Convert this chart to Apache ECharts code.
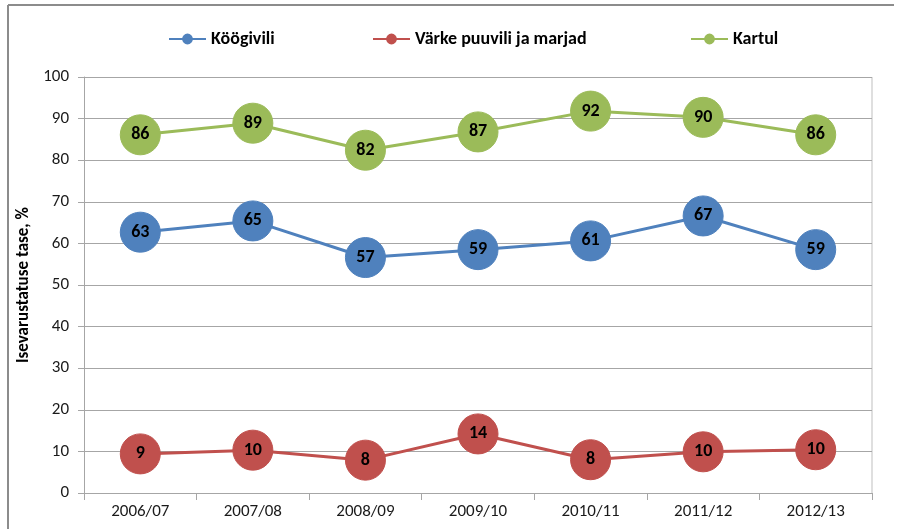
<!DOCTYPE html>
<html lang="et">

<head>
  <meta charset="UTF-8">
  <title>Isevarustatuse tase</title>
  <style>
    html, body { margin: 0; padding: 0; background: #fff; }
    #chart { width: 899px; height: 529px; }
  </style>
</head>

<body>
  <div id="chart"></div>

  <script src="https://cdn.jsdelivr.net/npm/echarts@6/dist/echarts.min.js"></script>
  <script>
    // andmed (väärtused loetud jooniselt)
    const years = ['2006/07', '2007/08', '2008/09', '2009/10', '2010/11', '2011/12', '2012/13'];
    const koogivili = [62.7, 65.4, 56.6, 58.5, 60.6, 66.6, 58.5];
    const puuvili = [9.4, 10.3, 7.9, 14.2, 8.0, 9.9, 10.4];
    const kartul = [86.1, 88.9, 82.4, 86.8, 91.8, 90.3, 86.1];
    const yTicks = [0, 10, 20, 30, 40, 50, 60, 70, 80, 90, 100];
    const seriesNames = ['Köögivili', 'Värke puuvili ja marjad', 'Kartul'];

    const font = 'Calibri, Carlito, Lato, "Liberation Sans", sans-serif';

    function makeSeries(name, data, color) {
      return {
        name: name,
        type: 'line',
        data: data,
        symbol: 'circle',
        symbolSize: 40,
        lineStyle: { color: color, width: 3 },
        itemStyle: { color: color, borderColor: color, borderWidth: 1 },
        label: {
          show: true,
          position: 'inside',
          color: '#000',
          fontWeight: 'bold',
          fontSize: 18,
          fontFamily: font,
          formatter: p => Math.round(p.value)
        },
        emphasis: { disabled: true },
        animation: false
      };
    }

    // iga legendi kirje eraldi, et asukohad klapiksid
    function makeLegend(name, left) {
      return {
        data: [name],
        top: 30,
        left: left,
        padding: 0,
        itemWidth: 37,
        itemHeight: 11,
        itemGap: 0,
        textStyle: { fontSize: 18, fontWeight: 'bold', color: '#000', fontFamily: font }
      };
    }

    window.onload = () => {
      let dom = document.getElementById('chart');
      let chart = echarts.init(dom);

      let option = {
        backgroundColor: '#fff',
        textStyle: { fontFamily: font },
        graphic: [
          { type: 'line', shape: { x1: 8, y1: 5, x2: 8, y2: 529 }, style: { stroke: '#8c8c8c', lineWidth: 2 } },
          { type: 'line', shape: { x1: 8, y1: 5, x2: 894, y2: 5 }, style: { stroke: '#8c8c8c', lineWidth: 2 } },
          { type: 'line', shape: { x1: 872, y1: 77, x2: 872, y2: 493 }, style: { stroke: '#bfbfbf', lineWidth: 1 } }
        ],
        legend: [
          makeLegend(seriesNames[0], 168),
          makeLegend(seriesNames[1], 372),
          makeLegend(seriesNames[2], 690)
        ],
        grid: { left: 84, right: 27, top: 77, bottom: 36 },
        xAxis: {
          type: 'category',
          data: years,
          boundaryGap: true,
          axisLine: { lineStyle: { color: '#a6a6a6' } },
          axisTick: { show: true, length: 7, lineStyle: { color: '#a6a6a6' } },
          axisLabel: { color: '#1a1a1a', fontSize: 17, margin: 10, fontFamily: font }
        },
        yAxis: {
          type: 'value',
          min: yTicks[0],
          max: yTicks[yTicks.length - 1],
          interval: 10,
          name: 'Isevarustatuse tase, %',
          nameLocation: 'middle',
          nameGap: 50,
          nameTextStyle: { fontSize: 17, fontWeight: 'bold', color: '#000', fontFamily: font },
          axisLine: { show: true, lineStyle: { color: '#a6a6a6' } },
          axisTick: { show: true, length: 6, lineStyle: { color: '#a6a6a6' } },
          axisLabel: { color: '#1a1a1a', fontSize: 17, margin: 15, fontFamily: font },
          splitLine: { lineStyle: { color: '#a6a6a6' } }
        },
        series: [
          makeSeries(seriesNames[0], koogivili, '#4f81bd'),
          makeSeries(seriesNames[1], puuvili, '#c0504d'),
          makeSeries(seriesNames[2], kartul, '#9bbb59')
        ]
      };

      chart.setOption(option);
    };
  </script>
</body>

</html>
